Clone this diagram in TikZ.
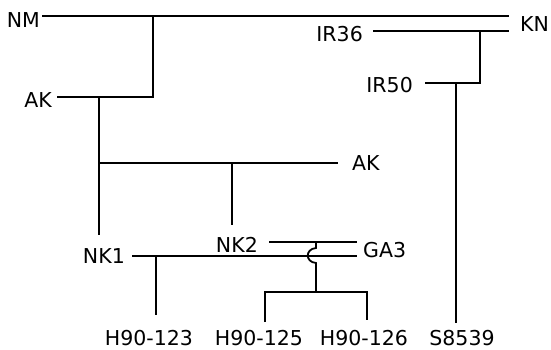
\documentclass[tikz,border=0pt]{standalone}
\usepackage{fontspec}
\setmainfont{DejaVu Sans}
\usetikzlibrary{positioning}

\begin{document}
\begin{tikzpicture}[x=1pt, y=-1pt,
      lbl/.style={inner sep=0pt, font=\fontsize{20.5}{24}\selectfont},
      bot/.style={lbl, anchor=base},
      ln/.style={line width=1.8pt, line join=miter}]
    \useasboundingbox (0,0) rectangle (551,350);
    % line ends and junctions
    \coordinate (nmE) at (42,16);   \coordinate (topR) at (509,16);
    \coordinate (ir36E) at (373,31); \coordinate (ir36R) at (509,31);
    \coordinate (knJ) at (480,31);  \coordinate (ir50E) at (425,83);
    \coordinate (ir50J) at (456,83); \coordinate (s85B) at (456,323);
    \coordinate (nmJ) at (153,16);  \coordinate (akE) at (57,97);
    \coordinate (akJ) at (99,97);   \coordinate (nk1T) at (99,235);
    \coordinate (ak2L) at (99,163); \coordinate (ak2E) at (338,163);
    \coordinate (ak2J) at (232,163); \coordinate (nk2T) at (232,225);
    \coordinate (nk1E) at (132,256); \coordinate (loR) at (357,256);
    \coordinate (nk2E) at (269,242); \coordinate (upR) at (357,242);
    \coordinate (h123T) at (156,256); \coordinate (h123B) at (156,315);
    \coordinate (crJ) at (316,242); \coordinate (brJ) at (316,292);
    \coordinate (h125B) at (265,322); \coordinate (h126B) at (367,320);
    % labels
    \node[lbl, left=2pt of nmE, yshift=-4pt] (nm) {NM};
    \node[lbl, anchor=west] (kn) at (520,24) {KN};
    \node[lbl, left=10pt of ir36E, yshift=-3pt] (ir36) {IR36};
    \node[lbl, left=12pt of ir50E, yshift=-2pt] (ir50) {IR50};
    \node[lbl, left=5pt of akE, yshift=-3pt] (ak) {AK};
    \node[lbl, right=14pt of ak2E] (ak2) {AK};
    \node[lbl, left=7pt of nk1E] (nk1) {NK1};
    \node[lbl, left=11pt of nk2E, yshift=-3pt] (nk2) {NK2};
    \node[lbl, anchor=west] (ga3) at (363,250) {GA3};
    \node[bot] (h123) at (149,345) {H90-123};
    \node[bot] (h125) at (259,345) {H90-125};
    \node[bot] (h126) at (364,345) {H90-126};
    \node[bot] (s85) at (462,345) {S8539};
    % tree
    \draw[ln] (nmE) -- (topR);
    \draw[ln] (ir36E) -- (ir36R);
    \draw[ln] (knJ) |- (ir50E);
    \draw[ln] (ir50J) -- (s85B);
    \draw[ln] (nmJ) |- (akE);
    \draw[ln] (akJ) -- (nk1T);
    \draw[ln] (ak2L) -- (ak2E);
    \draw[ln] (ak2J) -- (nk2T);
    \draw[ln] (nk1E) -- (loR);
    \draw[ln] (nk2E) -- (upR);
    \draw[ln] (h123T) -- (h123B);
    \draw[ln] (crJ) -- ++(0,6) .. controls (305,249) and (305,262) .. (316,263) -- (brJ);
    \draw[ln] (h125B) |- (brJ) -| (h126B);
  \end{tikzpicture}
\end{document}
